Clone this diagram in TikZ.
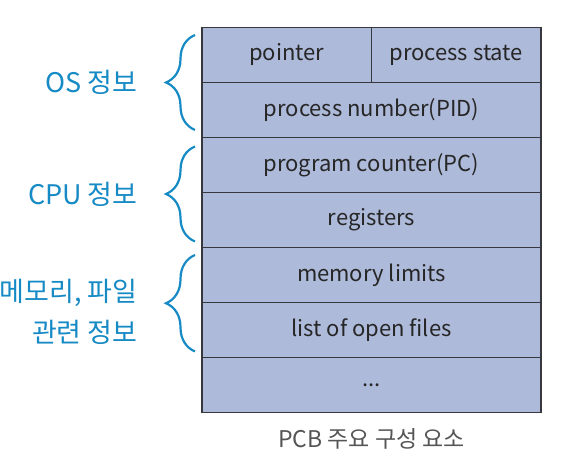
\documentclass[tikz,border=0pt]{standalone}
\usepackage{fontspec}
\setmainfont{Noto Sans CJK KR}
\usepackage{tikz}
\usetikzlibrary{positioning, calc, decorations.pathreplacing}
\definecolor{pcbfill}{RGB}{174,186,218}
\definecolor{pcbline}{RGB}{55,55,62}
\definecolor{infoblue}{RGB}{22,138,196}
\definecolor{capgray}{RGB}{85,85,85}
\tikzset{
  field/.style={rectangle, draw=pcbline, fill=pcbfill, line width=1.2pt,
    minimum width=339pt, minimum height=55pt, inner sep=0pt, outer sep=0pt,
    font=\fontsize{22}{26}\selectfont, text=black!85},
  halffield/.style={field, minimum width=169.5pt},
  infobrace/.style={decorate, decoration={brace, amplitude=29pt},
    draw=infoblue, line width=2.2pt},
  infolabel/.style={text=infoblue, font=\fontsize{27}{41}\selectfont,
    align=right, left=53pt},
  caption/.style={text=capgray, font=\fontsize{23}{27}\selectfont}
}

\begin{document}
\begin{tikzpicture}[x=1pt, y=1pt]
  \useasboundingbox (0,0) rectangle (568,465);
  % PCB fields
  \node[halffield, anchor=north west] (ptr) at (202,437.5) {pointer};
  \node[halffield, right=0pt of ptr] (state) {process state};
  \node[field, below right=0pt and 0pt of ptr.south west] (pid) {process number(PID)};
  \node[field, below=0pt of pid] (pc) {program counter(PC)};
  \node[field, below=0pt of pc] (reg) {registers};
  \node[field, below=0pt of reg] (mem) {memory limits};
  \node[field, below=0pt of mem] (files) {list of open files};
  \node[field, below=0pt of files] (dots) {...};
  % caption
  \node[caption, below=12pt of dots] (cap) {PCB 주요 구성 요소};
  % braces and labels
  \draw[infobrace] ($(pid.south west)+(-7,7.5)$) -- ($(ptr.north west)+(-7,-7.5)$)
    node[infolabel, midway] (os) {OS 정보};
  \draw[infobrace] ($(reg.south west)+(-7,6)$) -- ($(pc.north west)+(-7,-9)$)
    node[infolabel, midway] (cpu) {CPU 정보};
  \draw[infobrace] ($(files.south west)+(-7,6)$) -- ($(mem.north west)+(-7,-7.5)$)
    node[infolabel, midway, yshift=-9pt] (memfile) {메모리, 파일\\관련 정보};
\end{tikzpicture}
\end{document}
